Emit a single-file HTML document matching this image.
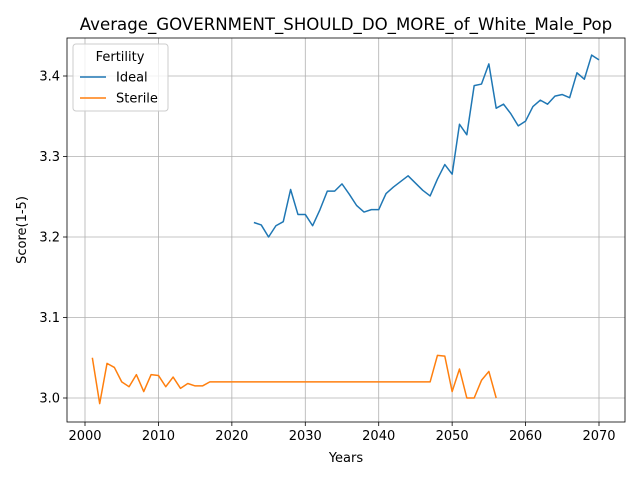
<!DOCTYPE html>
<html><head><meta charset="utf-8"><style>body{margin:0;background:#fff}svg{display:block;font-family:"DejaVu Sans",sans-serif}</style></head>
<body>
<svg id="chart" width="640" height="480" viewBox="0 0 640 480" xmlns="http://www.w3.org/2000/svg"></svg>
<script>
const idealYears = [];
for (let y = 2023; y <= 2070; y++) idealYears.push(y);
const idealValues = [3.218,3.215,3.200,3.214,3.219,3.259,3.228,3.228,3.214,3.234,3.257,3.257,3.266,3.253,3.239,3.231,3.234,3.234,3.254,3.262,3.269,3.276,3.267,3.258,3.251,3.272,3.290,3.278,3.340,3.327,3.388,3.390,3.415,3.360,3.365,3.353,3.338,3.344,3.362,3.370,3.365,3.375,3.377,3.373,3.404,3.396,3.426,3.420];
const sterileYears = [];
for (let y = 2001; y <= 2056; y++) sterileYears.push(y);
const sterileValues = [3.050,2.993,3.043,3.038,3.020,3.014,3.029,3.008,3.029,3.028,3.014,3.026,3.012,3.018,3.015,3.015,3.020,3.020,3.020,3.020,3.020,3.020,3.020,3.020,3.020,3.020,3.020,3.020,3.020,3.020,3.020,3.020,3.020,3.020,3.020,3.020,3.020,3.020,3.020,3.020,3.020,3.020,3.020,3.020,3.020,3.020,3.020,3.053,3.052,3.008,3.036,3.000,3.000,3.022,3.033,3.000];
const xTicks = [2000,2010,2020,2030,2040,2050,2060,2070];
const yTicks = [3.0,3.1,3.2,3.3,3.4];

const svg = document.getElementById('chart');
const NS = 'http://www.w3.org/2000/svg';
const L = 67, R = 625, T = 38, B = 422;
const xs = v => 85 + (v - 2000) * (599 - 85) / 70;
const ys = v => 398 - (v - 3.0) * 805;
function mk(tag, attrs, parent) {
  const e = document.createElementNS(NS, tag);
  for (const k in attrs) e.setAttribute(k, attrs[k]);
  (parent || svg).appendChild(e);
  return e;
}
xTicks.forEach(t => {
  const g = mk('line', {x1: xs(t), x2: xs(t), y1: T, y2: B, stroke: '#b0b0b0', 'stroke-width': 0.8});
  
  
  const tk = mk('line', {x1: xs(t), x2: xs(t), y1: B, y2: B + 4, stroke: '#000', 'stroke-width': 0.8});
  
  
  const tx = mk('text', {x: xs(t), y: B + 18, 'text-anchor': 'middle', 'font-size': 13});
  tx.textContent = t;
  
  
});
yTicks.forEach(t => {
  const g = mk('line', {x1: L, x2: R, y1: ys(t), y2: ys(t), stroke: '#b0b0b0', 'stroke-width': 0.8});
  
  
  const tk = mk('line', {x1: L - 4, x2: L, y1: ys(t), y2: ys(t), stroke: '#000', 'stroke-width': 0.8});
  
  
  const tx = mk('text', {x: L - 7, y: ys(t) + 4.5, 'text-anchor': 'end', 'font-size': 13});
  tx.textContent = t.toFixed(1);
  
  
});
function series(xv, yv, color, name) {
  const p = mk('polyline', {points: xv.map((x, i) => xs(x) + ',' + ys(yv[i])).join(' '), fill: 'none', stroke: color, 'stroke-width': 1.5, 'stroke-linejoin': 'round'});
  
  
}
series(idealYears, idealValues, '#1f77b4', 'ideal-line');
series(sterileYears, sterileValues, '#ff7f0e', 'sterile-line');
const fr = mk('rect', {x: L, y: T, width: R - L, height: B - T, fill: 'none', stroke: '#000', 'stroke-width': 0.8});


</script>
<svg style="position:absolute;left:0;top:0" width="640" height="480">
  <text x="346" y="30" text-anchor="middle" font-size="16.6" font-family="DejaVu Sans, sans-serif">Average_GOVERNMENT_SHOULD_DO_MORE_of_White_Male_Pop</text>
  <text x="346" y="462" text-anchor="middle" font-size="13" font-family="DejaVu Sans, sans-serif">Years</text>
  <text transform="translate(26,230) rotate(-90)" text-anchor="middle" font-size="13" font-family="DejaVu Sans, sans-serif">Score(1-5)</text>
  <g font-family="DejaVu Sans, sans-serif">
    <rect x="73" y="44" width="95" height="67" rx="3" fill="#fff" fill-opacity="0.8" stroke="#ccc"/>
    <text x="120" y="61" text-anchor="middle" font-size="13">Fertility</text>
    <line x1="80" x2="106" y1="77" y2="77" stroke="#1f77b4" stroke-width="1.5"/>
    <text x="116" y="81.5" font-size="13">Ideal</text>
    <line x1="80" x2="106" y1="98" y2="98" stroke="#ff7f0e" stroke-width="1.5"/>
    <text x="116" y="102.5" font-size="13">Sterile</text>
  </g>
</svg>
</body></html>
